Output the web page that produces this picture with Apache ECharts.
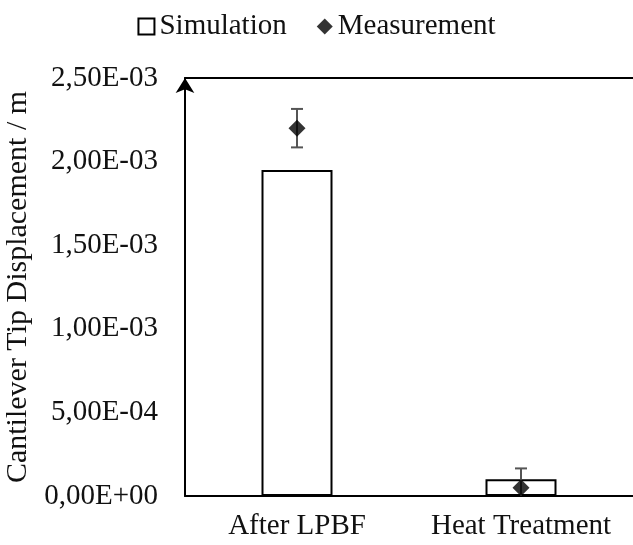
<!DOCTYPE html>
<html>
<head>
<meta charset="utf-8">
<script src="https://cdn.jsdelivr.net/npm/echarts@6/dist/echarts.min.js"></script>
<style>
html,body{margin:0;padding:0;background:#fff;}
#chart{width:633px;height:545px;}
</style>
</head>
<body>
<div id="chart"></div>
<script>
const categories = ['After LPBF', 'Heat Treatment'];
const simulation = [1.95e-3, 1.0e-4];
const measurement = [2.2e-3, 5e-5];
const measurementError = [1.15e-4, 1.15e-4];
const yTickLabels = ['0,00E+00', '5,00E-04', '1,00E-03', '1,50E-03', '2,00E-03', '2,50E-03'];
const yStep = 5e-4;

const FONT = '"Liberation Serif", "Times New Roman", serif';
const FS = 29;
const chart = echarts.init(document.getElementById('chart'));

const errData = measurement.map((v, i) => [i, Math.max(0, v - measurementError[i]), v + measurementError[i]]);

chart.setOption({
  animation: false,
  backgroundColor: '#fff',
  textStyle: { fontFamily: FONT },
  legend: {
    top: 7,
    left: 'center',
    itemGap: 30,
    itemWidth: 16,
    itemHeight: 16,
    textStyle: { fontFamily: FONT, fontSize: FS, color: '#111' },
    data: [
      { name: 'Simulation', icon: 'rect', itemStyle: { color: '#fff', borderColor: '#000', borderWidth: 2 } },
      { name: 'Measurement', icon: 'diamond', itemStyle: { color: '#000' } }
    ]
  },
  grid: { left: 185, right: 0, top: 78, bottom: 49, containLabel: false, outerBoundsMode: 'none' },
  xAxis: [{
    type: 'category',
    data: categories,
    axisLine: { lineStyle: { color: '#000', width: 2 } },
    axisTick: { show: false },
    axisLabel: { fontFamily: FONT, fontSize: FS, color: '#111', margin: 16, interval: 0, hideOverlap: false }
  }, {
    type: 'category',
    data: categories,
    position: 'top',
    axisLine: { show: true, onZero: false, lineStyle: { color: '#000', width: 2 } },
    axisTick: { show: false },
    axisLabel: { show: false }
  }],
  yAxis: {
    type: 'value',
    min: 0,
    max: yStep * (yTickLabels.length - 1),
    interval: yStep,
    name: 'Cantilever Tip Displacement / m',
    nameLocation: 'middle',
    nameGap: 143,
    nameTextStyle: { fontFamily: FONT, fontSize: 30, color: '#111' },
    axisLine: { show: true, symbol: ['none', 'arrow'], symbolSize: [14, 15], lineStyle: { color: '#000', width: 2 } },
    axisTick: { show: false },
    splitLine: { show: false },
    axisLabel: {
      fontFamily: FONT, fontSize: FS, color: '#111', margin: 27,
      formatter: v => yTickLabels[Math.round(v / yStep)]
    }
  },
  series: [{
    name: 'Simulation',
    type: 'bar',
    data: simulation,
    barWidth: 71,
    itemStyle: { color: '#fff', borderColor: '#000', borderWidth: 2 },
    z: 2
  }, {
    name: 'errors',
    type: 'custom',
    data: errData,
    z: 3,
    renderItem: function (params, api) {
      const x = api.coord([api.value(0), 0])[0];
      const lo = api.coord([api.value(0), api.value(1)])[1];
      const hi = api.coord([api.value(0), api.value(2)])[1];
      const hw = 6;
      const st = { stroke: '#555', lineWidth: 2 };
      const children = [
        { type: 'line', shape: { x1: x, y1: lo, x2: x, y2: hi }, style: st },
        { type: 'line', shape: { x1: x - hw, y1: hi, x2: x + hw, y2: hi }, style: st }
      ];
      if (api.value(1) > 0) {
        children.push({ type: 'line', shape: { x1: x - hw, y1: lo, x2: x + hw, y2: lo }, style: st });
      }
      return { type: 'group', children: children };
    }
  }, {
    name: 'Measurement',
    type: 'scatter',
    data: measurement,
    symbol: 'diamond',
    symbolSize: [17, 17],
    itemStyle: { color: '#000' },
    z: 4
  }]
});
</script>
</body>
</html>
